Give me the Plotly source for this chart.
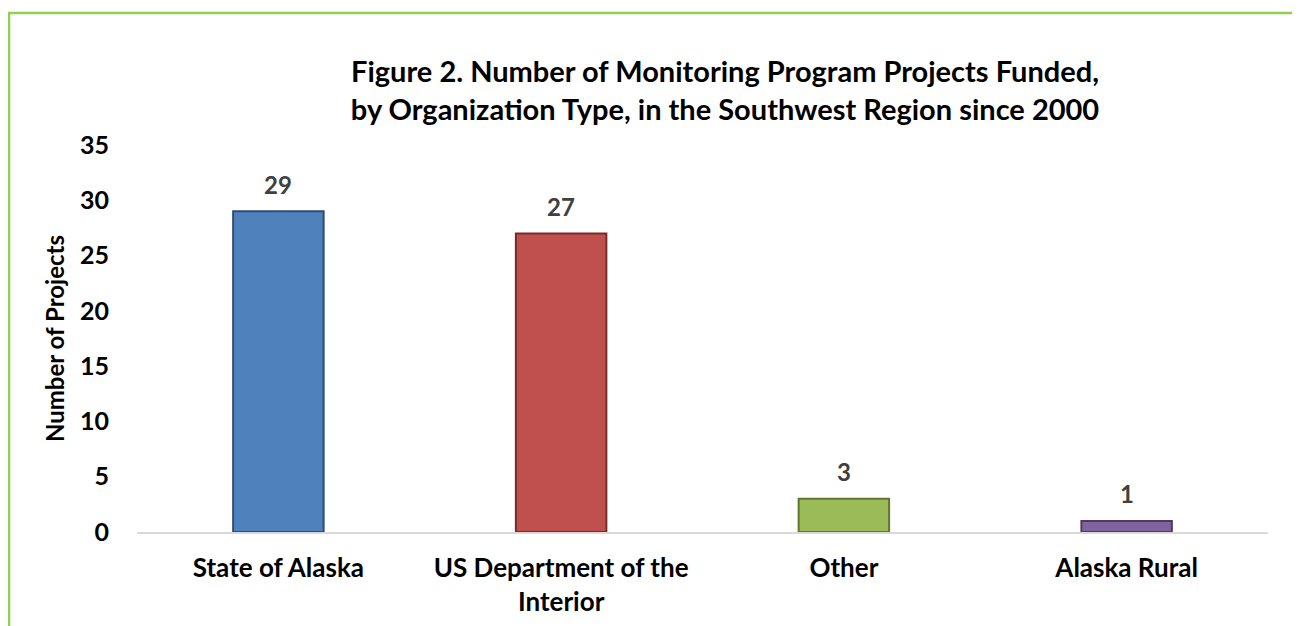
import plotly.graph_objects as go

categories = ["State of Alaska", "US Department of the<br>Interior", "Other", "Alaska Rural"]
projects = [29, 27, 3, 1]
bar_colors = ["#4F81BD", "#C0504D", "#9BBB59", "#8064A2"]
edge_colors = ["#2C4D75", "#772C2A", "#5F7530", "#4D3B62"]

FONT = "Lato, 'Open Sans', sans-serif"
# the page body adds an 8px margin, so the figure is 16px smaller than the window
W, H = 1292, 618
ML, MR, MT, MB = 129, 32, 137, 94
pw, ph = W - ML - MR, H - MT - MB

fig = go.Figure(go.Bar(
    x=categories, y=projects,
    marker=dict(color=bar_colors, line=dict(color=edge_colors, width=2)),
    width=0.32, showlegend=False, hoverinfo="x+y",
))

for c, v in zip(categories, projects):
    fig.add_annotation(x=c, y=v, yshift=27, text=f"<b>{v}</b>", showarrow=False,
                       font=dict(family=FONT, size=24, color="#404040"))

# green frame around the chart
fig.add_shape(type="rect", xref="paper", yref="paper",
              x0=(1 - ML) / pw, x1=(1290 - ML) / pw,
              y0=(MT + ph - 650) / ph, y1=(MT + ph - 5) / ph,
              line=dict(color="#92D050", width=2.5), fillcolor="rgba(0,0,0,0)", layer="below")

fig.update_layout(
    width=W, height=H, margin=dict(l=ML, r=MR, t=MT, b=MB, autoexpand=False),
    paper_bgcolor="white", plot_bgcolor="white",
    font=dict(family=FONT, color="black"),
    title=dict(text="<b>Figure 2. Number of Monitoring Program Projects Funded,<br>"
                    "by Organization Type, in the Southwest Region since 2000</b>",
               x=717 / W, xanchor="center", y=1 - 74 / H, yanchor="middle",
               font=dict(family=FONT, size=29, color="black")),
    bargap=0.68,
)
fig.update_xaxes(showline=True, linecolor="#D9D9D9", linewidth=2, ticks="", automargin=False,
                 tickfont=dict(family=FONT, size=26, color="black"),
                 ticklabelstandoff=12, tickprefix="<b>", ticksuffix="</b>")
fig.update_yaxes(range=[0, 35], dtick=5, showgrid=False, zeroline=False, showline=False,
                 automargin=False,
                 tickfont=dict(family=FONT, size=25, color="black"),
                 tickprefix="<b>", ticksuffix="</b>", ticklabelstandoff=27,
                 title=dict(text="<b>Number of Projects</b>", standoff=8,
                            font=dict(family=FONT, size=24, color="black")))

fig.write_html("out.html")
